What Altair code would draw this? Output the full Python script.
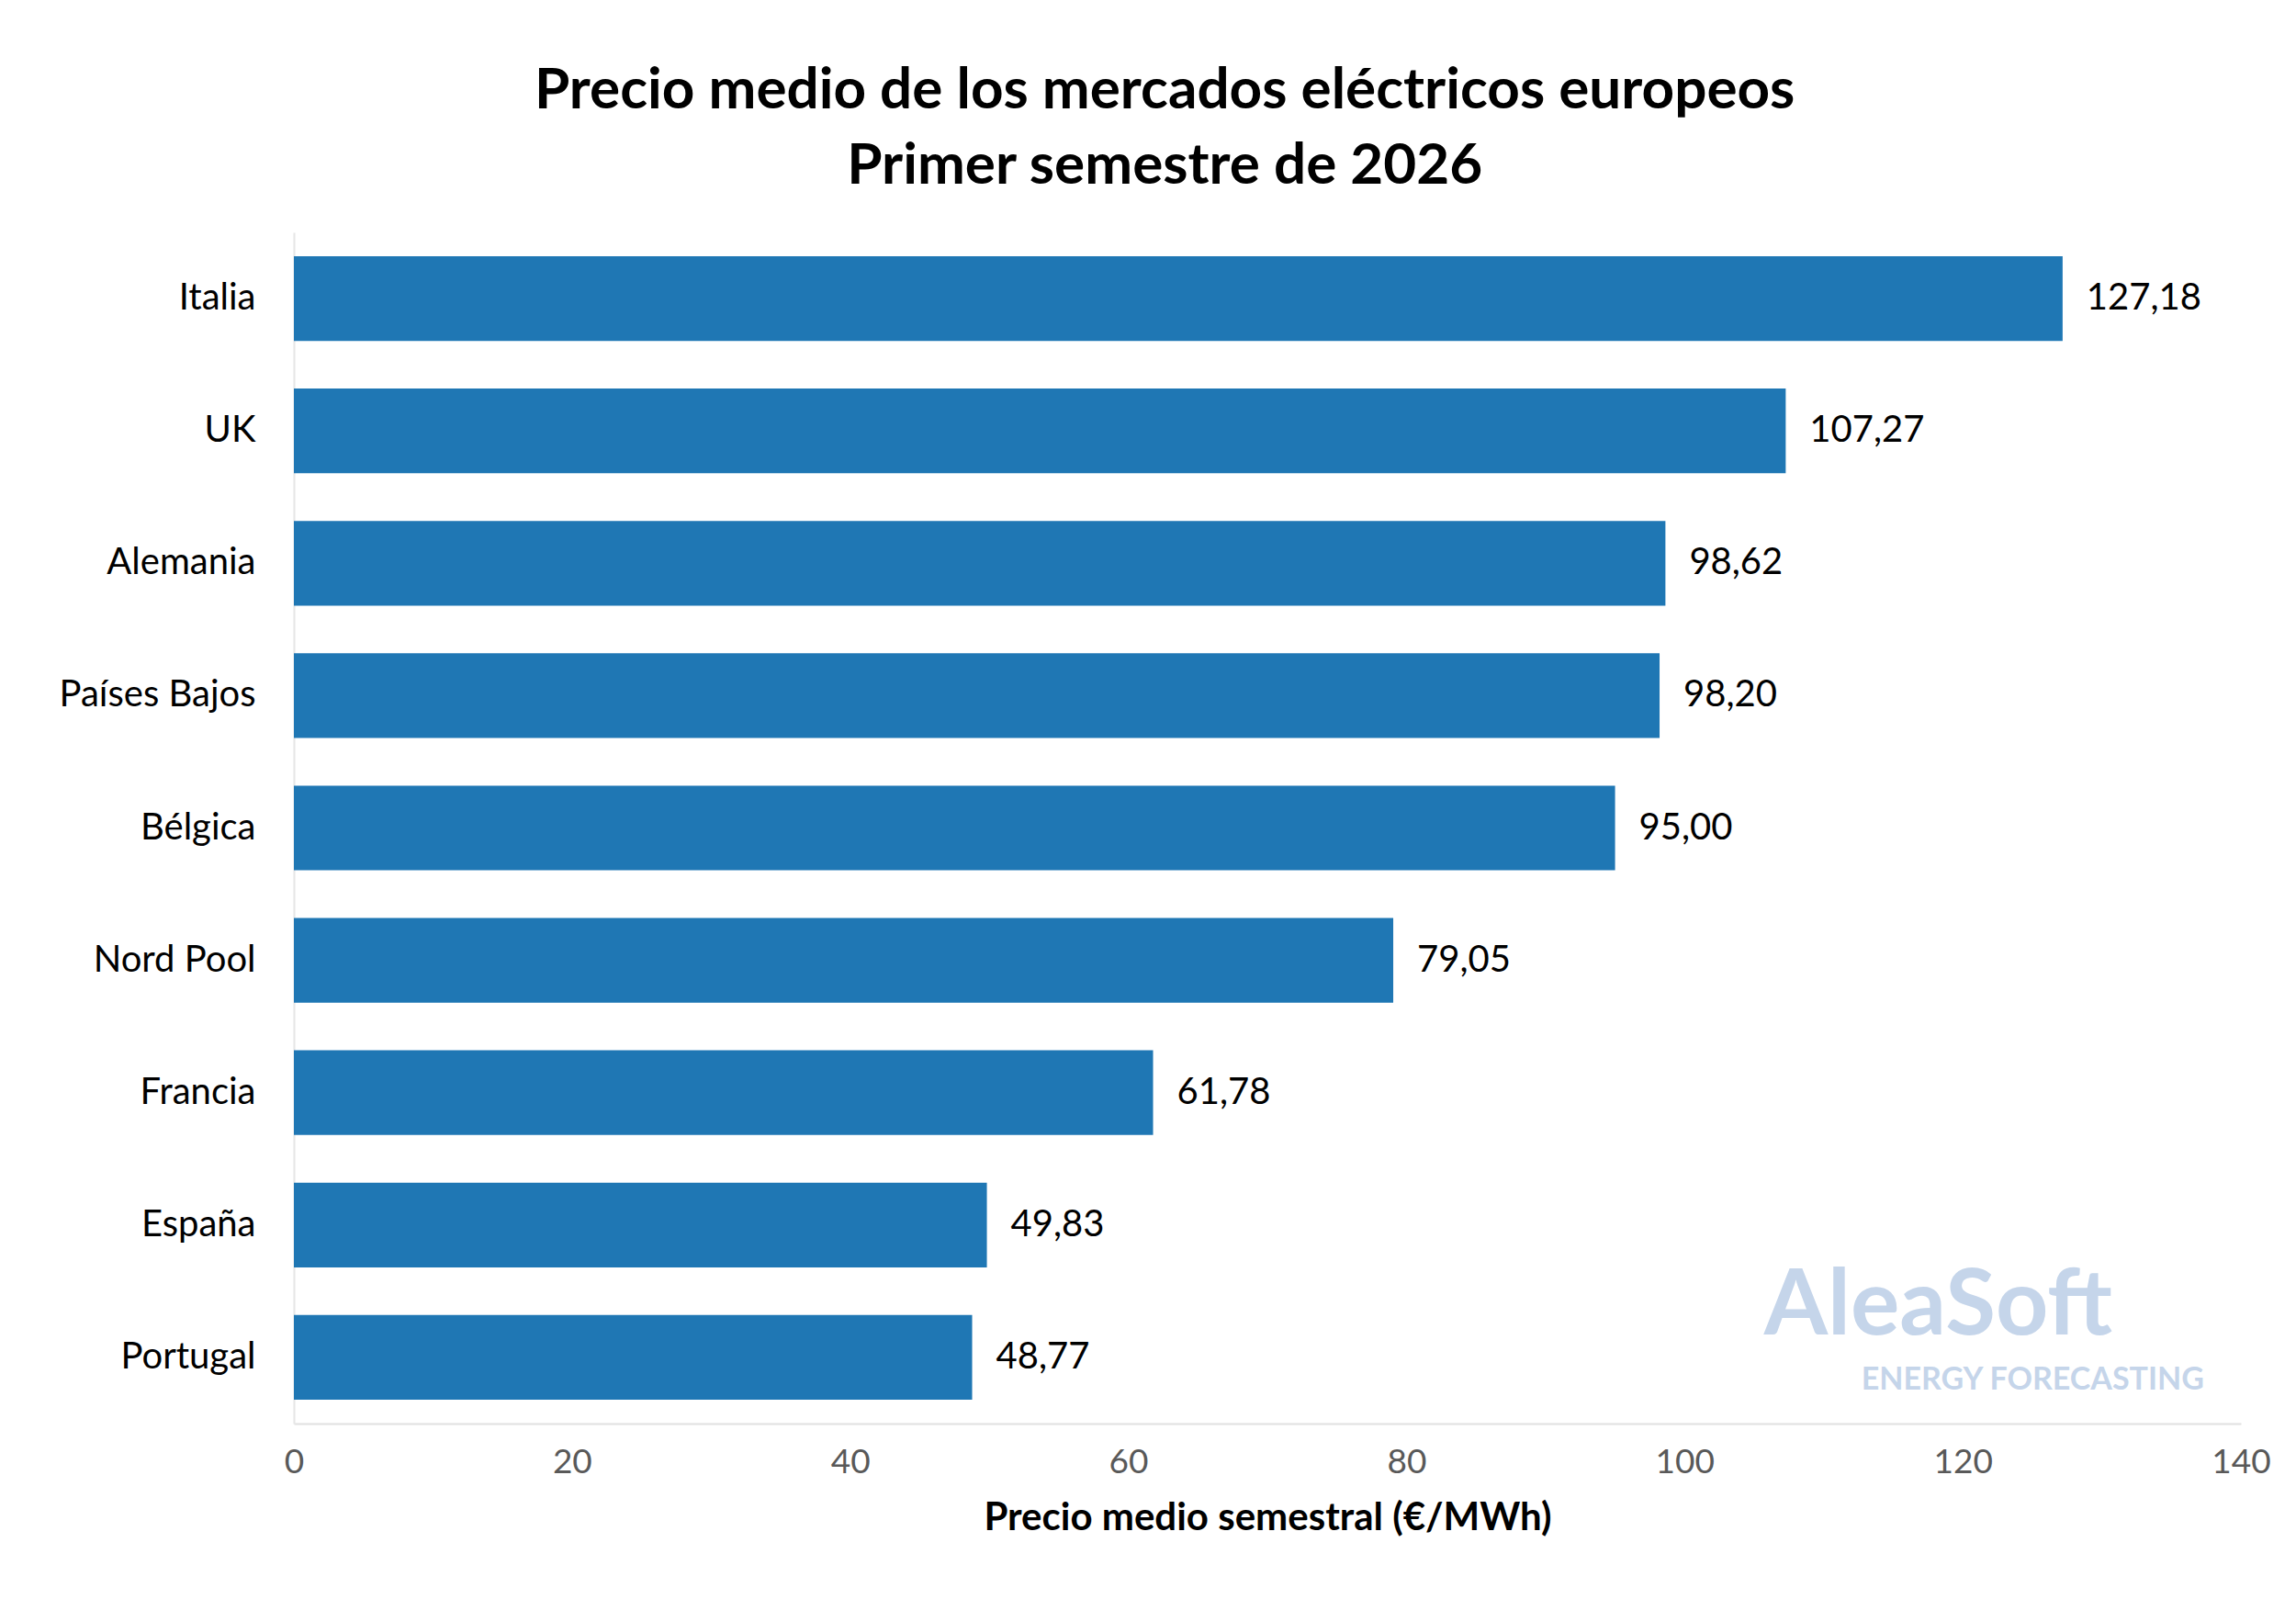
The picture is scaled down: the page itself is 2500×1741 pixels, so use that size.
import altair as alt
import pandas as pd

countries = ["Italia", "UK", "Alemania", "Países Bajos", "Bélgica", "Nord Pool", "Francia", "España", "Portugal"]
prices = [127.18, 107.27, 98.62, 98.20, 95.00, 79.05, 61.78, 49.83, 48.77]
labels = ["127,18", "107,27", "98,62", "98,20", "95,00", "79,05", "61,78", "49,83", "48,77"]

df = pd.DataFrame({"pais": countries, "precio": prices, "label": labels})
FONT = "Lato"

base = alt.Chart(df).encode(
    y=alt.Y("pais:N", sort=countries, title=None,
            scale=alt.Scale(paddingInner=0.36, paddingOuter=0.18),
            axis=alt.Axis(labelFontSize=40, labelColor="#000", labelFont=FONT, labelLimit=0,
                          labelPadding=42, ticks=False, domainColor="#e6e6e6", domainWidth=2)),
)

bars = base.mark_bar(color="#1f77b4").encode(
    x=alt.X("precio:Q", title="Precio medio semestral (€/MWh)",
            scale=alt.Scale(domain=[0, 140]),
            axis=alt.Axis(values=list(range(0, 141, 20)), labelFontSize=37, labelColor="#595959",
                          labelFont=FONT, ticks=False, grid=False, labelPadding=24, labelFlush=False,
                          domainColor="#e0e0e0", domainWidth=2,
                          titleFontSize=42, titleFont=FONT, titleFontWeight="bold",
                          titleColor="#000", titlePadding=22))
)

text = base.mark_text(align="left", dx=26, fontSize=40, font=FONT, color="#000").encode(
    x="precio:Q", text="label:N"
)

logo = alt.Chart(df.head(1)).mark_text(align="right", fontSize=100, font=FONT, fontWeight="bold",
                                       color="#c5d5ea").encode(
    x=alt.value(1980), y=alt.value(1170), text=alt.value("AleaSoft"))
sub = alt.Chart(df.head(1)).mark_text(align="right", fontSize=34, font=FONT, fontWeight="bold",
                                      color="#c5d5ea").encode(
    x=alt.value(2080), y=alt.value(1250), text=alt.value("ENERGY FORECASTING"))

chart = alt.layer(bars, text, logo, sub).properties(
    width=2120, height=1297,
    title=alt.Title(["Precio medio de los mercados eléctricos europeos", "Primer semestre de 2026"],
                    fontSize=62, font=FONT, fontWeight="bold", color="#000",
                    lineHeight=82, offset=40, anchor="middle", frame="bounds"),
    padding={"left": 56, "top": 60, "right": 8, "bottom": 20},
).configure_view(stroke=None)

chart.save("out.html", embed_options={"renderer": "svg", "actions": False})
